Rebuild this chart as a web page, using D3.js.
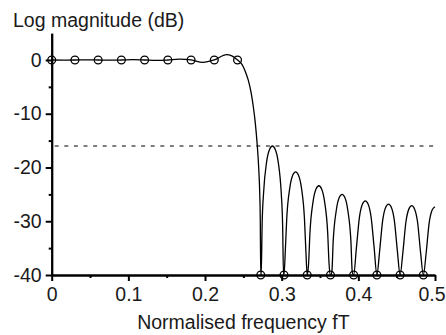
<!DOCTYPE html>
<html>
<head>
<meta charset="utf-8">
<script src="https://cdn.jsdelivr.net/npm/d3@7"></script>
<style>
  html, body { margin: 0; padding: 0; background: #fff; }
  svg text { font-family: "Liberation Sans", Arial, Helvetica, sans-serif; fill: #1a1a1a; }
</style>
</head>
<body>
<svg id="chart" width="446" height="335"></svg>
<script>
// Frequency samples of the design (normalised frequency fT, magnitude in dB)
const passbandFreqs = [0, 0.0303, 0.0606, 0.0909, 0.1212, 0.1515, 0.1818, 0.2121, 0.2424];
const passbandDb    = [0, 0, 0, 0, 0, 0, 0, 0, 0];
const stopbandFreqs = [0.2727, 0.3030, 0.3333, 0.3636, 0.3939, 0.4242, 0.4545, 0.4848];
const stopbandDb    = [-40, -40, -40, -40, -40, -40, -40, -40];

// Interpolated magnitude response, [fT, dB]; values below the floor are held at -40
const response = [
  [0, 0], [0.0152, -0.02], [0.0303, 0], [0.0455, 0.03], [0.0606, 0], [0.0758, -0.04],
  [0.0909, 0], [0.1061, 0.06], [0.1212, 0], [0.1364, -0.08], [0.1515, 0], [0.1667, 0.15],
  [0.1818, 0], [0.1970, -0.45], [0.2121, 0], [0.2280, 1.0], [0.2350, 0.75], [0.2424, 0],
  [0.2470, -0.6], [0.2500, -1.3], [0.2535, -2.5], [0.2565, -3.8], [0.2600, -6.0],
  [0.2630, -8.7], [0.2655, -11.6], [0.2680, -15.6], [0.2700, -20.0], [0.2712, -24.0],
  [0.2721, -30.0], [0.2727, -40],
  // lobe 1
  [0.2733, -40], [0.2745, -30.5], [0.2764, -24.7], [0.2803, -19.0], [0.2843, -16.6],
  [0.2879, -16.0], [0.2915, -16.6], [0.2955, -19.0], [0.2994, -24.7], [0.3012, -30.5],
  [0.3024, -40], [0.3030, -40],
  // lobe 2
  [0.3048, -35.3], [0.3066, -29.5], [0.3106, -23.8], [0.3145, -21.4], [0.3182, -20.8],
  [0.3218, -21.4], [0.3258, -23.8], [0.3297, -29.5], [0.3315, -35.3], [0.3333, -40],
  // lobe 3
  [0.3351, -37.9], [0.3369, -32.1], [0.3409, -26.4], [0.3448, -24.0], [0.3485, -23.4],
  [0.3521, -24.0], [0.3560, -26.4], [0.3600, -32.1], [0.3618, -37.9], [0.3636, -40],
  // lobe 4
  [0.3654, -39.5], [0.3672, -33.7], [0.3712, -28.0], [0.3751, -25.6], [0.3788, -25.0],
  [0.3824, -25.6], [0.3863, -28.0], [0.3903, -33.7], [0.3921, -39.5], [0.3939, -40],
  // lobe 5
  [0.3975, -34.9], [0.4015, -29.2], [0.4054, -26.8], [0.4091, -26.2],
  [0.4127, -26.8], [0.4166, -29.2], [0.4206, -34.9], [0.4242, -40],
  // lobe 6
  [0.4278, -35.5], [0.4318, -29.8], [0.4357, -27.4], [0.4394, -26.8],
  [0.4430, -27.4], [0.4469, -29.8], [0.4509, -35.5], [0.4545, -40],
  // lobe 7
  [0.4581, -35.8], [0.4621, -30.1], [0.4660, -27.7], [0.4697, -27.1],
  [0.4733, -27.7], [0.4772, -30.1], [0.4812, -35.8], [0.4848, -40],
  // half lobe up to fT = 0.5
  [0.4884, -36.0], [0.4924, -30.3], [0.4963, -27.9], [0.5000, -27.3]
];

const xMajorTicks = [0, 0.1, 0.2, 0.3, 0.4, 0.5];
const xMinorTicks = [0.05, 0.15, 0.25, 0.35, 0.45];
const yMajorTicks = [0, -10, -20, -30, -40];
const yMinorTicks = [-5, -15, -25, -35];
const sidelobeLevel = -16;

const svg = d3.select("#chart");
const x = d3.scaleLinear().domain([0, 0.5]).range([51.7, 435]);
const y = d3.scaleLinear().domain([-40, 5]).range([275, 33.1]);

const fontSize = "19.5px";

// minor ticks
svg.append("g").attr("transform", `translate(0,${y(-40)})`)
  .call(d3.axisBottom(x).tickValues(xMinorTicks).tickSize(3).tickFormat(""))
  .call(g => g.select(".domain").remove());
svg.append("g").attr("transform", `translate(${x(0)},0)`)
  .call(d3.axisLeft(y).tickValues(yMinorTicks).tickSize(3).tickFormat(""))
  .call(g => g.select(".domain").remove());

// major axes
const xAxis = svg.append("g").attr("transform", `translate(0,${y(-40)})`)
  .call(d3.axisBottom(x).tickValues(xMajorTicks).tickSize(6).tickSizeOuter(0).tickPadding(6)
    .tickFormat(d => d === 0 ? "0" : d3.format(".1f")(d)));
const yAxis = svg.append("g").attr("transform", `translate(${x(0)},0)`)
  .call(d3.axisLeft(y).tickValues(yMajorTicks).tickSize(6).tickSizeOuter(0).tickPadding(4)
    .tickFormat(d => d === 0 ? "0" : "-" + Math.abs(d)));

svg.selectAll(".tick line").attr("stroke", "#000").attr("stroke-width", 2);
svg.selectAll(".domain").attr("stroke", "#000").attr("stroke-width", 2.3);
svg.selectAll(".tick text").style("font-size", fontSize).attr("fill", "#1a1a1a");
// keep the last x label inside the frame
xAxis.selectAll(".tick text").filter(d => d === 0.5).attr("dx", "-3.5");

// sidelobe reference level
svg.append("line")
  .attr("x1", x(0) + 3).attr("x2", x(0.5))
  .attr("y1", y(sidelobeLevel)).attr("y2", y(sidelobeLevel))
  .attr("stroke", "#000").attr("stroke-width", 1.2)
  .attr("stroke-dasharray", "4,5.6");

// response curve
const line = d3.line()
  .x(d => x(d[0]))
  .y(d => y(d[1]))
  .curve(d3.curveMonotoneX);
svg.append("path")
  .datum(response)
  .attr("d", line)
  .attr("fill", "none")
  .attr("stroke", "#000")
  .attr("stroke-width", 1.3);

// frequency samples
const samples = passbandFreqs.map((f, i) => [f, passbandDb[i]])
  .concat(stopbandFreqs.map((f, i) => [f, stopbandDb[i]]));
svg.append("g").selectAll("circle")
  .data(samples)
  .join("circle")
  .attr("cx", d => x(d[0]))
  .attr("cy", d => y(d[1]))
  .attr("r", 3.9)
  .attr("fill", "none")
  .attr("stroke", "#000")
  .attr("stroke-width", 1.3);

// axis titles
svg.append("text")
  .attr("x", 13).attr("y", 27)
  .style("font-size", fontSize)
  .text("Log magnitude (dB)");
svg.append("text")
  .attr("x", (x(0) + x(0.5)) / 2).attr("y", 329)
  .attr("text-anchor", "middle")
  .style("font-size", fontSize)
  .text("Normalised frequency fT");
</script>
</body>
</html>
